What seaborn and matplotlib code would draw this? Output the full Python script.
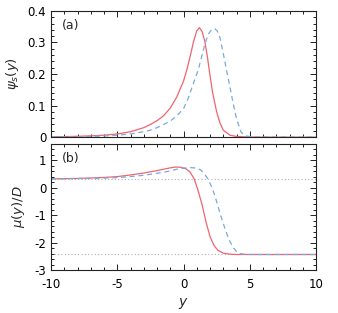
import numpy as np
import pandas as pd
import seaborn as sns
import matplotlib
matplotlib.use("Agg")
import matplotlib.pyplot as plt
from matplotlib.ticker import MultipleLocator

# values
y_red_psi = [-10, -9, -8, -7, -6, -5, -4, -3, -2.5, -2, -1.5, -1, -0.5, 0, 0.25, 0.5, 0.75, 1.0, 1.2,
             1.4, 1.6, 1.8, 2.0, 2.2, 2.5, 2.75, 3.0, 3.5, 4.0, 5.0, 6, 8, 10]
psi_red = [0.001, 0.0015, 0.0025, 0.004, 0.006, 0.010, 0.017, 0.030, 0.040, 0.052, 0.068, 0.092, 0.128,
           0.178, 0.213, 0.256, 0.302, 0.337, 0.347, 0.335, 0.305, 0.255, 0.195, 0.140, 0.080, 0.045,
           0.022, 0.006, 0.002, 0.0003, 0, 0, 0]

y_blue_psi = [-10, -9, -8, -7, -6, -5, -4, -3, -2.5, -2, -1.5, -1, -0.5, 0, 0.35, 0.7, 1.1, 1.35, 1.6,
              1.85, 2.1, 2.35, 2.55, 2.75, 3.0, 3.25, 3.5, 3.75, 4.0, 4.35, 4.7, 5.2, 6, 8, 10]
psi_blue = [0.0005, 0.0008, 0.0013, 0.002, 0.0035, 0.006, 0.010, 0.017, 0.022, 0.030, 0.040, 0.051, 0.068,
            0.090, 0.123, 0.165, 0.212, 0.252, 0.293, 0.325, 0.340, 0.344, 0.336, 0.315, 0.265, 0.212,
            0.159, 0.106, 0.058, 0.015, 0.004, 0.0, 0, 0, 0]

y_red_mu = [-10, -9, -8, -7, -6, -5, -4, -3, -2, -1.5, -1, -0.6, -0.2, 0.2, 0.5, 0.8, 1.1, 1.4, 1.7,
            2.0, 2.3, 2.6, 3.0, 3.5, 4.0, 5, 6, 8, 10]
mu_red = [0.33, 0.335, 0.345, 0.36, 0.38, 0.41, 0.47, 0.54, 0.63, 0.68, 0.73, 0.76, 0.75, 0.69, 0.57,
          0.33, -0.10, -0.62, -1.25, -1.78, -2.10, -2.28, -2.38, -2.42, -2.43, -2.43, -2.43, -2.43, -2.43]

y_blue_mu = [-10, -9, -8, -7, -6, -5, -4, -3, -2, -1.5, -1, -0.5, 0, 0.5, 1.0, 1.3, 1.6, 1.9, 2.2,
             2.5, 2.8, 3.1, 3.4, 3.7, 4.0, 4.3, 4.6, 5, 6, 8, 10]
mu_blue = [0.33, 0.332, 0.337, 0.345, 0.355, 0.375, 0.41, 0.46, 0.53, 0.57, 0.62, 0.68, 0.72, 0.74,
           0.72, 0.65, 0.50, 0.27, -0.05, -0.50, -1.00, -1.45, -1.85, -2.15, -2.32, -2.40, -2.42,
           -2.43, -2.43, -2.43, -2.43]

mu_upper = 0.33
mu_lower = -2.43

RED = "#f0646e"
BLUE = "#78aade"

sns.set_style("ticks")
plt.rcParams["font.family"] = ["DejaVu Sans"]
plt.rcParams["mathtext.fontset"] = "dejavusans"
plt.rcParams["axes.unicode_minus"] = False
plt.rcParams["font.size"] = 8.5

fig = plt.figure(figsize=(3.38, 3.13), dpi=100)
ax1 = fig.add_axes([0.151, 0.562, 0.784, 0.403])
ax2 = fig.add_axes([0.151, 0.137, 0.784, 0.403])

df_psi = pd.concat([
    pd.DataFrame({"y": y_red_psi, "v": psi_red, "s": "a"}),
    pd.DataFrame({"y": y_blue_psi, "v": psi_blue, "s": "b"}),
])
df_mu = pd.concat([
    pd.DataFrame({"y": y_red_mu, "v": mu_red, "s": "a"}),
    pd.DataFrame({"y": y_blue_mu, "v": mu_blue, "s": "b"}),
])

for ax, df in [(ax1, df_psi), (ax2, df_mu)]:
    sns.lineplot(data=df, x="y", y="v", hue="s", style="s", palette=[RED, BLUE],
                 dashes=[(None, None), (4, 3)], linewidth=0.9, legend=False, ax=ax)

for level in (mu_upper, mu_lower):
    ax2.axhline(level, color="#b0b0b0", linestyle=(0, (1, 2)), linewidth=0.8, zorder=0)

ax1.set_xlim(-10, 10)
ax1.set_ylim(0, 0.4)
ax2.set_xlim(-10, 10)
ax2.set_ylim(-3, 1.6)

ax1.set_yticks([0, 0.1, 0.2, 0.3, 0.4])
ax1.set_yticklabels(["0", "0.1", "0.2", "0.3", "0.4"])
ax1.yaxis.set_minor_locator(MultipleLocator(0.02))
ax2.yaxis.set_major_locator(MultipleLocator(1))
ax2.yaxis.set_minor_locator(MultipleLocator(0.2))

for ax in (ax1, ax2):
    ax.xaxis.set_major_locator(MultipleLocator(5))
    ax.xaxis.set_minor_locator(MultipleLocator(1))
    ax.tick_params(which="both", direction="in", top=True, right=True, width=0.7, colors="#222222",
                   labelcolor="black", labelsize=8.5)
    ax.tick_params(which="major", length=4)
    ax.tick_params(which="minor", length=2)
    ax.tick_params(axis="x", pad=6)
    for sp in ax.spines.values():
        sp.set_linewidth(0.8)
        sp.set_color("#222222")

ax1.tick_params(labelbottom=False)
ax1.set_xlabel("")
ax1.set_ylabel(r"$\psi_s(y)$", fontsize=9.5, labelpad=5)
ax2.set_ylabel(r"$\mu(y)/D$", fontsize=9.5, labelpad=5)
ax2.set_xlabel(r"$y$", fontsize=10, labelpad=3)

ax1.text(0.04, 0.86, "(a)", transform=ax1.transAxes, fontsize=9)
ax2.text(0.04, 0.86, "(b)", transform=ax2.transAxes, fontsize=9)

fig.savefig("out.png", dpi=100)
